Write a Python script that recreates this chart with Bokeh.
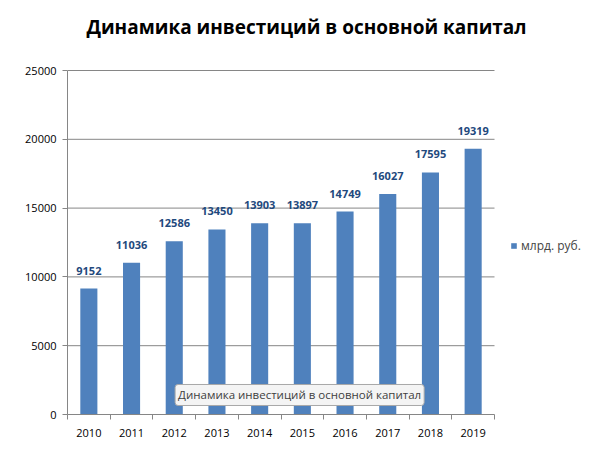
from bokeh.plotting import figure
from bokeh.models import (FixedTicker, Legend, LegendItem, Label,
                          ColumnDataSource, Range1d, LabelSet)
from bokeh.core.properties import value
from bokeh.embed import file_html
from bokeh.resources import INLINE

years = [2010, 2011, 2012, 2013, 2014, 2015, 2016, 2017, 2018, 2019]
values = [9152, 11036, 12586, 13450, 13903, 13897, 14749, 16027, 17595, 19319]
y_ticks = [0, 5000, 10000, 15000, 20000, 25000]
series_name = "млрд. руб."
title_text = "Динамика инвестиций в основной капитал"

FONT = "Open Sans"
BAR = "#4F81BD"
AXIS = "#868686"

# the frame runs to the right and top edges of the canvas so that the
# legend and the title can sit inside it; axes are bounded to the chart part
W, H = 594, 466
LEFT, BOTTOM = 67, 52
CAT_PX = 42.7          # width of one year slot
VAL_PX = 344 / 25000   # pixels per rouble

x0 = years[0] - 0.5
x_end = x0 + (W - LEFT) / CAT_PX
y_end = (H - BOTTOM) / VAL_PX

src = ColumnDataSource(dict(x=years, top=values, lbl=[str(v) for v in values]))

p = figure(width=W, height=H, output_backend="svg", toolbar_location=None,
           x_range=Range1d(x0, x_end), y_range=Range1d(0, y_end),
           min_border_left=LEFT, min_border_right=0,
           min_border_top=0, min_border_bottom=BOTTOM)
p.outline_line_color = None
p.background_fill_color = "white"

# horizontal grid lines, only across the chart part
grid = ColumnDataSource(dict(y=y_ticks[1:]))
p.segment(x0=x0, x1=years[-1] + 0.5, y0="y", y1="y", source=grid,
          line_color=AXIS, line_width=1)

bars = p.vbar(x="x", top="top", width=0.4, source=src, fill_color=BAR, line_color=None)

labels = LabelSet(x="x", y="top", text="lbl", source=src, text_align="center",
                  y_offset=14, text_font=value(FONT), text_font_size=value("11px"),
                  text_font_style=value("bold"), text_color="#1F497D")
p.add_layout(labels)

p.xgrid.grid_line_color = None
p.ygrid.grid_line_color = None

# x axis: labels at year centres, tick marks between years
p.xaxis.bounds = (x0, years[-1] + 0.5)
p.xaxis.ticker = FixedTicker(ticks=years, minor_ticks=[y - 0.5 for y in years] + [years[-1] + 0.5])
p.xaxis.major_tick_line_color = None
p.xaxis.minor_tick_in = 0
p.xaxis.minor_tick_out = 5
p.xaxis.minor_tick_line_color = AXIS
p.xaxis.axis_line_color = AXIS
p.xaxis.major_label_text_font = FONT
p.xaxis.major_label_text_font_size = "11px"
p.xaxis.major_label_text_color = "black"
p.xaxis.major_label_standoff = 8

p.yaxis.bounds = (y_ticks[0], y_ticks[-1])
p.yaxis.ticker = FixedTicker(ticks=y_ticks)
p.yaxis.major_tick_in = 0
p.yaxis.major_tick_out = 5
p.yaxis.major_tick_line_color = AXIS
p.yaxis.minor_tick_line_color = None
p.yaxis.axis_line_color = AXIS
p.yaxis.major_label_text_font = FONT
p.yaxis.major_label_text_font_size = "11px"
p.yaxis.major_label_text_color = "black"
p.yaxis.major_label_standoff = 6

title = Label(x=x0 + (306 - LEFT) / CAT_PX, y=(H - BOTTOM - 26) / VAL_PX,
              text=title_text, text_align="center", text_baseline="middle",
              text_font=FONT, text_font_size="19px", text_font_style="bold",
              text_color="black")
p.add_layout(title)

legend = Legend(items=[LegendItem(label=series_name, renderers=[bars])],
                location=(443, 160), border_line_color=None, background_fill_alpha=0,
                glyph_width=7, glyph_height=7, label_text_font=FONT,
                label_text_font_size="12px", margin=0, padding=2, spacing=0,
                label_standoff=4)
p.add_layout(legend)

# hover tooltip seen in the screenshot (with a soft shadow)
tip_x, tip_y = 2012.02, 655
shadow = Label(x=tip_x, y=tip_y, x_offset=2, y_offset=-2, text=title_text,
               text_font=FONT, text_font_size="11.5px", text_alpha=0,
               background_fill_color="#A0A0A0", background_fill_alpha=0.5,
               border_line_color=None, padding=3, border_radius=3)
p.add_layout(shadow)
tip = Label(x=tip_x, y=tip_y, text=title_text, text_font=FONT, text_font_size="11.5px",
            text_color="#404040", background_fill_color="#F4F4F4",
            border_line_color="#A8A8A8", padding=3, border_radius=3)
p.add_layout(tip)

open("out.html", "w").write(file_html(p, INLINE))
